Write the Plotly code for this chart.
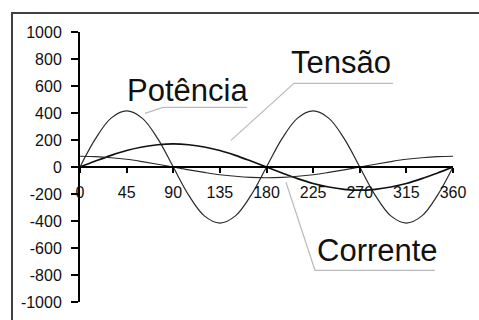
import plotly.graph_objects as go

# Data (angle in degrees)
angulo = [0, 15, 30, 45, 60, 75, 90, 105, 120, 135, 150, 165, 180,
          195, 210, 225, 240, 255, 270, 285, 300, 315, 330, 345, 360]
potencia = [0, 210, 362, 415, 362, 210, 0, -210, -362, -415, -362, -210, 0,
            210, 362, 415, 362, 210, 0, -210, -362, -415, -362, -210, 0]
tensao = [0, 44, 86, 122, 148, 165, 172, 165, 148, 122, 86, 44, 0,
          -44, -86, -122, -148, -165, -172, -165, -148, -122, -86, -44, 0]
corrente = [80, 77, 69, 57, 40, 21, 0, -21, -40, -57, -69, -77, -80,
            -77, -69, -57, -40, -21, 0, 21, 40, 57, 69, 77, 80]

x_ticks = [0, 45, 90, 135, 180, 225, 270, 315, 360]
y_ticks = [-1000, -800, -600, -400, -200, 0, 200, 400, 600, 800, 1000]

FONT = "Liberation Sans, Arial, sans-serif"

fig = go.Figure()
fig.add_trace(go.Scatter(x=angulo, y=potencia, mode="lines", line=dict(color="#2a2a2a", width=1.2, shape="spline"), name="Potência"))
fig.add_trace(go.Scatter(x=angulo, y=tensao, mode="lines", line=dict(color="#111111", width=1.7, shape="spline"), name="Tensão"))
fig.add_trace(go.Scatter(x=angulo, y=corrente, mode="lines", line=dict(color="#2a2a2a", width=1.1, shape="spline"), name="Corrente"))

# leader lines for the labels
leader = dict(color="#bbbbbb", width=1.2)
fig.add_shape(type="path", path="M 62.7 397 L 80.1 441 L 161.2 441", line=leader, xref="x", yref="y")
fig.add_shape(type="path", path="M 145.7 197 L 206.5 620 L 302.1 620", line=leader, xref="x", yref="y")
fig.add_shape(type="path", path="M 198.8 -113 L 226.8 -765 L 342.6 -765", line=leader, xref="x", yref="y")

# outer chart border: only left and top edges are visible in the picture
fig.add_shape(type="path", xref="paper", yref="paper",
              path="M -0.1823 -0.2 L -0.1823 1.070 L 1.2 1.070",
              line=dict(color="#404040", width=2), layer="below")

txt = dict(family=FONT, size=31, color="#111111")
fig.add_annotation(x=103.3, y=568, text="Potência", showarrow=False, font=txt, xanchor="center", yanchor="middle")
fig.add_annotation(x=252, y=775, text="Tensão", showarrow=False, font=txt, xanchor="center", yanchor="middle")
fig.add_annotation(x=287, y=-617, text="Corrente", showarrow=False, font=txt, xanchor="center", yanchor="middle")

fig.update_layout(
    width=479, height=320,
    margin=dict(l=80, r=26, t=32, b=18, pad=0, autoexpand=False),
    paper_bgcolor="white", plot_bgcolor="white",
    showlegend=False,
    font=dict(family=FONT, size=16, color="#111111"),
    xaxis=dict(range=[0, 360], tickvals=x_ticks, ticktext=[str(v) for v in x_ticks],
               showgrid=False, zeroline=False, showline=True, linecolor="black", linewidth=2,
               ticks="outside", ticklen=5, tickwidth=1.5, tickcolor="black", automargin=False,
               anchor="free", position=0.5, ticklabelstandoff=6),
    yaxis=dict(range=[-1000, 1000], tickvals=y_ticks, ticktext=[str(v) for v in y_ticks],
               showgrid=False, zeroline=False, showline=True, linecolor="black", linewidth=2,
               ticks="outside", ticklen=7, tickwidth=1.5, tickcolor="black", automargin=False,
               ticklabelstandoff=6),
)

fig.write_html("out.html",
               config={"displayModeBar": False},
               post_script="document.body.style.margin='0';document.body.style.overflow='hidden';")
